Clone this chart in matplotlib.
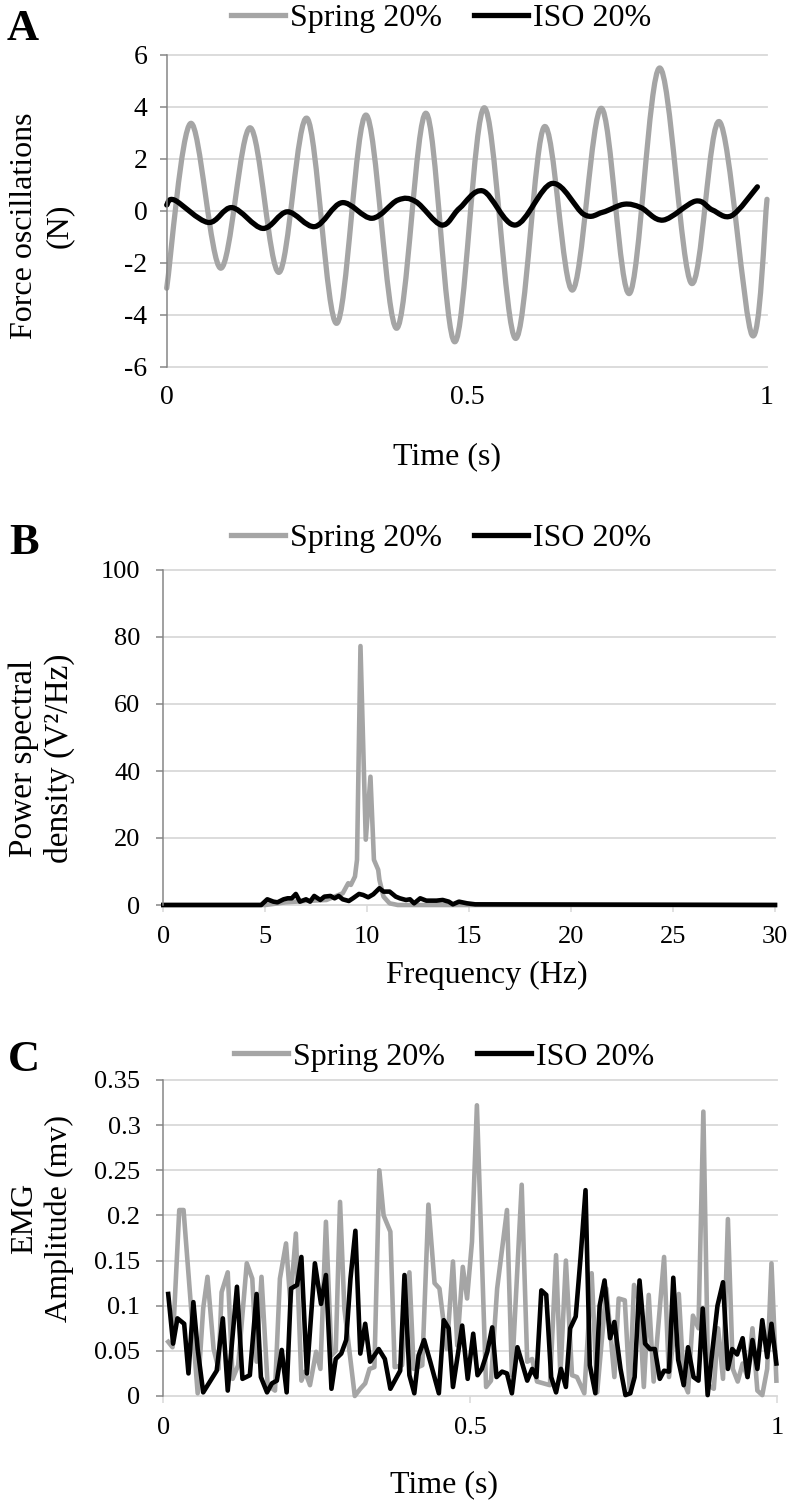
import numpy as np
import matplotlib
matplotlib.use('Agg')
import matplotlib.pyplot as plt
from matplotlib.path import Path
from matplotlib.patches import PathPatch
from matplotlib.lines import Line2D

# ---- panel A: force oscillations (turning points, Excel smoothed line)
force_t_spring = [0, 0.040, 0.090, 0.139, 0.187, 0.234, 0.283, 0.332, 0.383, 0.432, 0.480,
                  0.529, 0.581, 0.629, 0.676, 0.724, 0.771, 0.821, 0.874, 0.921, 0.975, 1.0]
force_spring = [-2.97, 3.37, -2.2, 3.2, -2.36, 3.56, -4.32, 3.69, -4.51, 3.76, -5.03,
                3.97, -4.9, 3.24, -3.04, 3.95, -3.17, 5.5, -2.78, 3.43, -4.77, 0.45]
force_t_iso = [0, 0.013, 0.069, 0.109, 0.160, 0.201, 0.247, 0.292, 0.342, 0.385, 0.415, 0.458,
               0.4875, 0.527, 0.581, 0.642, 0.695, 0.726, 0.762, 0.790, 0.827, 0.881, 0.909,
               0.941, 0.984]
force_iso = [0.23, 0.42, -0.44, 0.13, -0.67, -0.03, -0.60, 0.32, -0.28, 0.42, 0.36, -0.54,
             0.10, 0.77, -0.54, 1.06, -0.13, -0.05, 0.26, 0.13, -0.35, 0.38, 0.04,
             -0.18, 0.93]

# ---- panel B: power spectral density
psd_f_spring = [0, 5.0, 6.0, 7.0, 8.0, 8.8, 9.07, 9.2, 9.4, 9.5, 9.67, 9.93, 10.16, 10.33,
                10.54, 10.6, 10.8, 11.1, 11.5, 30]
psd_spring = [0, 0, 0.8, 1.2, 1.5, 3.5, 6.5, 6.0, 8.5, 13.5, 77.3, 19.5, 38.3, 13.5,
              10.5, 7.5, 2.5, 0.5, 0, 0]
psd_f_iso = [0, 4.8, 5.1, 5.4, 5.6, 5.9, 6.1, 6.3, 6.5, 6.7, 7.0, 7.2, 7.4, 7.7, 7.9, 8.2,
             8.4, 8.6, 8.8, 9.1, 9.3, 9.6, 9.8, 10.05, 10.3, 10.6, 10.8, 11.1, 11.4, 11.6,
             11.9, 12.1, 12.3, 12.6, 12.9, 13.2, 13.4, 13.7, 14.0, 14.2, 14.5, 14.9, 15.3, 30]
psd_iso = [0, 0, 1.7, 1.0, 0.8, 1.7, 2.0, 2.0, 3.3, 1.0, 1.7, 1.0, 2.7, 1.5, 2.5, 2.7,
           2.0, 2.7, 1.7, 1.2, 2.0, 3.3, 3.0, 2.3, 3.2, 5.0, 4.0, 4.0, 2.5, 2.0,
           1.5, 1.7, 0.5, 2.0, 1.3, 1.3, 1.3, 1.5, 1.0, 0.2, 1.0, 0.5, 0.2, 0]

# ---- panel C: EMG amplitude
emg_t_spring = [0.008, 0.015, 0.026, 0.033, 0.056, 0.065, 0.072, 0.082, 0.090, 0.095, 0.105,
                0.113, 0.122, 0.136, 0.145, 0.152, 0.160, 0.170, 0.182, 0.190, 0.200, 0.207,
                0.216, 0.225, 0.231, 0.239, 0.249, 0.256, 0.265, 0.274, 0.281, 0.288, 0.295,
                0.312, 0.321, 0.329, 0.336, 0.344, 0.352, 0.359, 0.370, 0.377, 0.389, 0.401,
                0.408, 0.422, 0.432, 0.442, 0.450, 0.462, 0.472, 0.479, 0.488, 0.495, 0.503,
                0.511, 0.526, 0.534, 0.544, 0.560, 0.568, 0.584, 0.593, 0.601, 0.609, 0.630,
                0.640, 0.647, 0.656, 0.666, 0.674, 0.686, 0.698, 0.707, 0.722, 0.735, 0.742,
                0.752, 0.760, 0.767, 0.775, 0.783, 0.791, 0.799, 0.816, 0.824, 0.840, 0.848,
                0.855, 0.863, 0.872, 0.880, 0.888, 0.897, 0.904, 0.912, 0.920, 0.928, 0.936,
                0.944, 0.952, 0.960, 0.968, 0.976, 0.984, 0.991, 0.999]
emg_spring = [0.060, 0.054, 0.206, 0.206, 0.003, 0.097, 0.132, 0.052, 0.030, 0.115, 0.137,
              0.019, 0.034, 0.147, 0.130, 0.038, 0.132, 0.012, 0.006, 0.130, 0.169, 0.104,
              0.180, 0.017, 0.027, 0.012, 0.049, 0.030, 0.193, 0.045, 0.050, 0.215, 0.097,
              0.000, 0.008, 0.014, 0.030, 0.032, 0.250, 0.200, 0.182, 0.032, 0.034, 0.137,
              0.030, 0.034, 0.212, 0.125, 0.119, 0.052, 0.149, 0.056, 0.143, 0.108, 0.171,
              0.322, 0.010, 0.017, 0.119, 0.206, 0.023, 0.234, 0.038, 0.041, 0.016, 0.012,
              0.156, 0.023, 0.150, 0.023, 0.021, 0.003, 0.136, 0.004, 0.119, 0.021, 0.108,
              0.106, 0.006, 0.123, 0.106, 0.010, 0.112, 0.016, 0.154, 0.021, 0.113, 0.016,
              0.004, 0.089, 0.075, 0.315, 0.012, 0.008, 0.075, 0.019, 0.196, 0.030, 0.016,
              0.036, 0.021, 0.075, 0.006, 0.001, 0.030, 0.147, 0.017]
emg_t_iso = [0.008, 0.016, 0.023, 0.034, 0.041, 0.049, 0.056, 0.065, 0.076, 0.087, 0.097,
             0.105, 0.120, 0.129, 0.141, 0.152, 0.159, 0.169, 0.177, 0.185, 0.193, 0.201,
             0.208, 0.218, 0.225, 0.234, 0.247, 0.257, 0.265, 0.274, 0.281, 0.290, 0.298,
             0.305, 0.313, 0.321, 0.329, 0.337, 0.351, 0.361, 0.370, 0.386, 0.393, 0.401,
             0.409, 0.416, 0.425, 0.435, 0.449, 0.457, 0.465, 0.472, 0.487, 0.496, 0.505,
             0.512, 0.519, 0.528, 0.536, 0.543, 0.552, 0.560, 0.568, 0.577, 0.584, 0.593,
             0.601, 0.608, 0.616, 0.624, 0.632, 0.640, 0.648, 0.656, 0.663, 0.672, 0.680,
             0.688, 0.695, 0.704, 0.711, 0.719, 0.728, 0.735, 0.745, 0.753, 0.761, 0.768,
             0.776, 0.785, 0.793, 0.801, 0.809, 0.816, 0.824, 0.831, 0.839, 0.848, 0.855,
             0.864, 0.872, 0.879, 0.887, 0.895, 0.903, 0.912, 0.920, 0.927, 0.935, 0.944,
             0.952, 0.960, 0.968, 0.976, 0.984, 0.991, 0.999]
emg_iso = [0.113, 0.058, 0.086, 0.080, 0.025, 0.104, 0.052, 0.004, 0.016, 0.028, 0.086,
           0.006, 0.121, 0.019, 0.023, 0.113, 0.021, 0.004, 0.014, 0.017, 0.051, 0.004,
           0.119, 0.123, 0.154, 0.025, 0.147, 0.102, 0.134, 0.008, 0.041, 0.047, 0.062,
           0.130, 0.183, 0.047, 0.080, 0.038, 0.052, 0.041, 0.008, 0.028, 0.134, 0.023,
           0.003, 0.045, 0.062, 0.038, 0.003, 0.084, 0.075, 0.010, 0.078, 0.019, 0.069,
           0.023, 0.030, 0.049, 0.076, 0.021, 0.027, 0.025, 0.003, 0.054, 0.038, 0.017,
           0.030, 0.021, 0.117, 0.112, 0.021, 0.004, 0.030, 0.010, 0.075, 0.088, 0.154,
           0.228, 0.034, 0.003, 0.100, 0.128, 0.064, 0.082, 0.030, 0.001, 0.003, 0.021,
           0.128, 0.058, 0.052, 0.052, 0.019, 0.028, 0.027, 0.131, 0.040, 0.012, 0.054,
           0.021, 0.017, 0.097, 0.001, 0.052, 0.100, 0.126, 0.030, 0.052, 0.046, 0.064,
           0.021, 0.062, 0.030, 0.084, 0.043, 0.080, 0.036]

series_names = ['Spring 20%', 'ISO 20%']

GRAY = '#a5a5a5'
GRID = '#d9d9d9'
AXIS = '#868686'
W, H = 793, 1509

plt.rcParams['font.family'] = ['Liberation Serif', 'DejaVu Serif']
plt.rcParams['axes.unicode_minus'] = False

fig = plt.figure(figsize=(W / 100, H / 100), dpi=100)


def add_axes_px(left, right, top, bottom):
    return fig.add_axes([left / W, 1 - bottom / H, (right - left) / W, (bottom - top) / H])


def smooth_path(x, y):
    # Catmull-Rom -> cubic bezier, the way Excel draws a "smoothed line"
    pts = np.column_stack([x, y]).astype(float)
    n = len(pts)
    verts = [pts[0]]
    codes = [Path.MOVETO]
    for i in range(n - 1):
        p0 = pts[max(i - 1, 0)]
        p1 = pts[i]
        p2 = pts[i + 1]
        p3 = pts[min(i + 2, n - 1)]
        verts += [p1 + (p2 - p0) / 6, p2 - (p3 - p1) / 6, p2]
        codes += [Path.CURVE4] * 3
    return Path(verts, codes)


def style_axes(ax, ylim, yticks, ylabels, xlim, xticks, xlabels, ypad, xlen, xpad, fs):
    ax.set_xlim(xlim)
    ax.set_ylim(ylim)
    ax.set_yticks(yticks)
    ax.set_yticklabels(ylabels)
    ax.set_xticks(xticks)
    ax.set_xticklabels(xlabels)
    for s in ['top', 'right', 'bottom']:
        ax.spines[s].set_visible(False)
    ax.spines['left'].set_color(AXIS)
    ax.spines['left'].set_linewidth(1.1)
    ax.grid(axis='y', color=GRID, lw=1.3)
    ax.set_axisbelow(True)
    for t in ax.yaxis.get_major_ticks():
        t.gridline.set_clip_on(False)
    ax.tick_params(axis='y', length=5, width=1.1, color=AXIS, pad=ypad, labelsize=fs)
    ax.tick_params(axis='x', length=xlen, width=1.1, color=GRID, pad=xpad, labelsize=fs)


def legend_at(cx, cy):
    handles = [Line2D([], [], color=GRAY, lw=3.8), Line2D([], [], color='black', lw=3.8)]
    fig.legend(handles, series_names, loc='center', bbox_to_anchor=(cx / W, 1 - cy / H),
               ncol=2, frameon=False, fontsize=23, handlelength=1.7, handletextpad=0.15,
               columnspacing=1.0, borderpad=0, borderaxespad=0)


# ---------------- A
axA = add_axes_px(166.7, 767, 55, 367)
for t, v, c in [(force_t_spring, force_spring, GRAY), (force_t_iso, force_iso, 'black')]:
    axA.add_patch(PathPatch(smooth_path(t, v), fill=False, edgecolor=c, lw=3.8,
                            capstyle='round', joinstyle='round', clip_on=False))
style_axes(axA, (-6, 6), range(-6, 7, 2), [str(v) for v in range(-6, 7, 2)],
           (0, 1), [0, 0.5, 1], ['0', '0.5', '1'], ypad=9, xlen=0, xpad=13, fs=20)
legend_at(441, 18)
fig.text(23 / W, 1 - 29 / H, 'A', fontsize=32, weight='bold', ha='center', va='center')
fig.text(42 / W, 1 - 226 / H, 'Force oscillations\n(N)', rotation=90, fontsize=23,
         ha='center', va='center', linespacing=1.25)
fig.text(447 / W, 1 - 457 / H, 'Time (s)', fontsize=23, ha='center', va='center')

# ---------------- B
axB = add_axes_px(163.3, 775, 570, 905)
axB.plot(psd_f_spring, psd_spring, color=GRAY, lw=3.3, solid_joinstyle='round', clip_on=False)
axB.plot(psd_f_iso, psd_iso, color='black', lw=3.3, solid_joinstyle='round', clip_on=False)
style_axes(axB, (0, 100), range(0, 101, 20), [str(v) for v in range(0, 101, 20)],
           (0, 30), range(0, 31, 5), [str(v) for v in range(0, 31, 5)],
           ypad=11.5, xlen=5, xpad=10, fs=19)
legend_at(441, 538)
fig.text(24 / W, 1 - 543 / H, 'B', fontsize=32, weight='bold', ha='center', va='center')
fig.text(42 / W, 1 - 758 / H, 'Power spectral\ndensity (V²/Hz)', rotation=90, fontsize=24,
         ha='center', va='center', linespacing=1.2)
fig.text(487 / W, 1 - 975 / H, 'Frequency (Hz)', fontsize=23, ha='center', va='center')

# ---------------- C
axC = add_axes_px(163.3, 777, 1080, 1396)
axC.plot(emg_t_spring, emg_spring, color=GRAY, lw=3.3, solid_joinstyle='round', clip_on=False)
axC.plot(emg_t_iso, emg_iso, color='black', lw=3.3, solid_joinstyle='round', clip_on=False)
c_ticks = [0, 0.05, 0.1, 0.15, 0.2, 0.25, 0.3, 0.35]
style_axes(axC, (0, 0.35), c_ticks, ['0', '0.05', '0.1', '0.15', '0.2', '0.25', '0.3', '0.35'],
           (0, 1), [0, 0.5, 1], ['0', '0.5', '1'], ypad=11.5, xlen=5, xpad=10, fs=19)
legend_at(444, 1057)
fig.text(24 / W, 1 - 1060 / H, 'C', fontsize=32, weight='bold', ha='center', va='center')
fig.text(42 / W, 1 - 1218 / H, 'EMG\nAmplitude (mv)', rotation=90, fontsize=23,
         ha='center', va='center', linespacing=1.25)
fig.text(444 / W, 1 - 1485 / H, 'Time (s)', fontsize=23, ha='center', va='center')

fig.savefig('out.png', dpi=100)
